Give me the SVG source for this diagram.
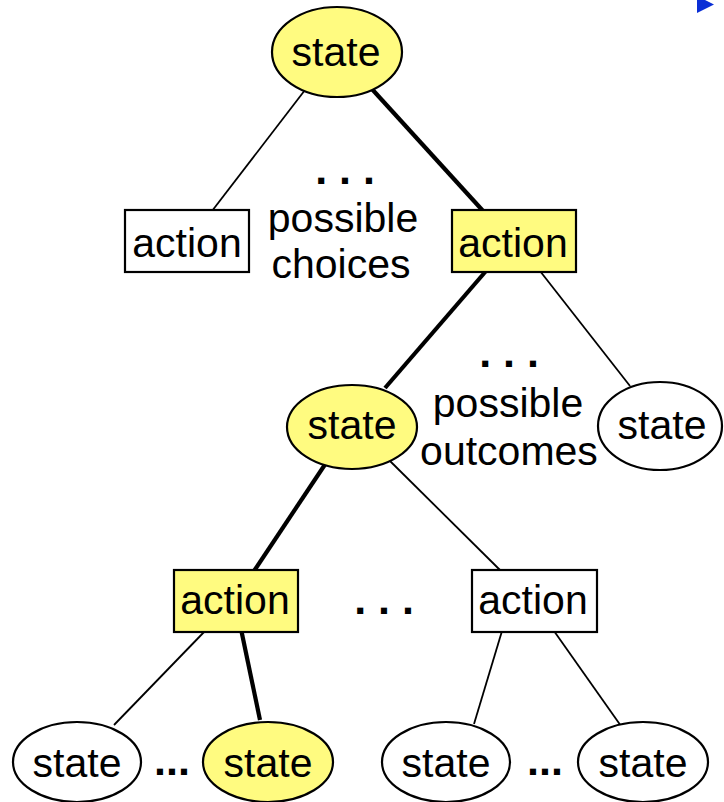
<svg xmlns="http://www.w3.org/2000/svg" width="724" height="802" viewBox="0 0 724 802">
  <style>
    .lbl { font-family: "Liberation Sans", Arial, Helvetica, sans-serif; font-size: 41px; fill: #000; text-anchor: middle; }
    .dots { font-family: "Liberation Sans", Arial, Helvetica, sans-serif; font-size: 43px; font-weight: bold; fill: #000; text-anchor: middle; }
    .node { stroke: #000; stroke-width: 2.2; }
    .hi { fill: #fffb80; }
    .plain { fill: #fff; }
    .thin { stroke: #000; stroke-width: 1.8; fill: none; }
    .thick { stroke: #000; stroke-width: 4.2; fill: none; }
  </style>

  <rect width="724" height="802" fill="#fff"/>

  <!-- small blue pointer, top right -->
  <polygon points="697,-4 714,4.5 697,13" fill="#0a2fd6"/>

  <!-- connectors (drawn beneath the nodes) -->
  <g id="edges">
    <line class="thin" x1="305" y1="90" x2="212" y2="211"/>
    <line class="thick" x1="371" y1="88" x2="484" y2="212"/>
    <line class="thick" x1="486" y1="271" x2="385" y2="388"/>
    <line class="thin" x1="540" y1="271" x2="630" y2="386"/>
    <line class="thick" x1="326" y1="463" x2="254" y2="571"/>
    <line class="thin" x1="390" y1="461" x2="501" y2="571"/>
    <line class="thin" x1="205" y1="631" x2="114" y2="725"/>
    <line class="thick" x1="241" y1="629" x2="260" y2="720"/>
    <line class="thin" x1="502" y1="631" x2="474" y2="724"/>
    <line class="thin" x1="554" y1="631" x2="621" y2="726"/>
  </g>

  <!-- root state -->
  <g id="root-state">
    <ellipse class="node hi" cx="337" cy="52" rx="65" ry="45"/>
    <text class="lbl" x="336" y="66">state</text>
  </g>

  <!-- first level: choices -->
  <g id="action-left">
    <rect class="node plain" x="125" y="210" width="124" height="62"/>
    <text class="lbl" x="187" y="257">action</text>
  </g>
  <g id="action-chosen">
    <rect class="node hi" x="452" y="210" width="124" height="62"/>
    <text class="lbl" x="513" y="257">action</text>
  </g>
  <g id="choices-note">
    <text class="dots" x="345" y="184">. . .</text>
    <text class="lbl" x="343" y="232">possible</text>
    <text class="lbl" x="341" y="278">choices</text>
  </g>

  <!-- second level: outcomes -->
  <g id="state-reached">
    <ellipse class="node hi" cx="352" cy="427" rx="65" ry="42"/>
    <text class="lbl" x="352" y="439">state</text>
  </g>
  <g id="state-other">
    <ellipse class="node plain" cx="660" cy="426" rx="62" ry="44"/>
    <text class="lbl" x="662" y="439">state</text>
  </g>
  <g id="outcomes-note">
    <text class="dots" x="509" y="367">. . .</text>
    <text class="lbl" x="508" y="417">possible</text>
    <text class="lbl" x="509" y="465">outcomes</text>
  </g>

  <!-- third level: actions -->
  <g id="action-chosen-2">
    <rect class="node hi" x="174" y="570" width="124" height="62"/>
    <text class="lbl" x="235" y="614">action</text>
  </g>
  <g id="action-other-2">
    <rect class="node plain" x="472" y="570" width="125" height="62"/>
    <text class="lbl" x="533" y="614">action</text>
  </g>
  <text class="dots" x="384" y="614">. . .</text>

  <!-- fourth level: states -->
  <g id="leaf-1">
    <ellipse class="node plain" cx="77" cy="762" rx="64" ry="40"/>
    <text class="lbl" x="77" y="777">state</text>
  </g>
  <g id="leaf-2">
    <ellipse class="node hi" cx="268" cy="762" rx="65" ry="40"/>
    <text class="lbl" x="268" y="777">state</text>
  </g>
  <g id="leaf-3">
    <ellipse class="node plain" cx="446" cy="762" rx="64" ry="40"/>
    <text class="lbl" x="446" y="777">state</text>
  </g>
  <g id="leaf-4">
    <ellipse class="node plain" cx="643" cy="762" rx="65" ry="40"/>
    <text class="lbl" x="643" y="777">state</text>
  </g>
  <text class="dots" x="172" y="775">...</text>
  <text class="dots" x="545" y="775">...</text>
</svg>
